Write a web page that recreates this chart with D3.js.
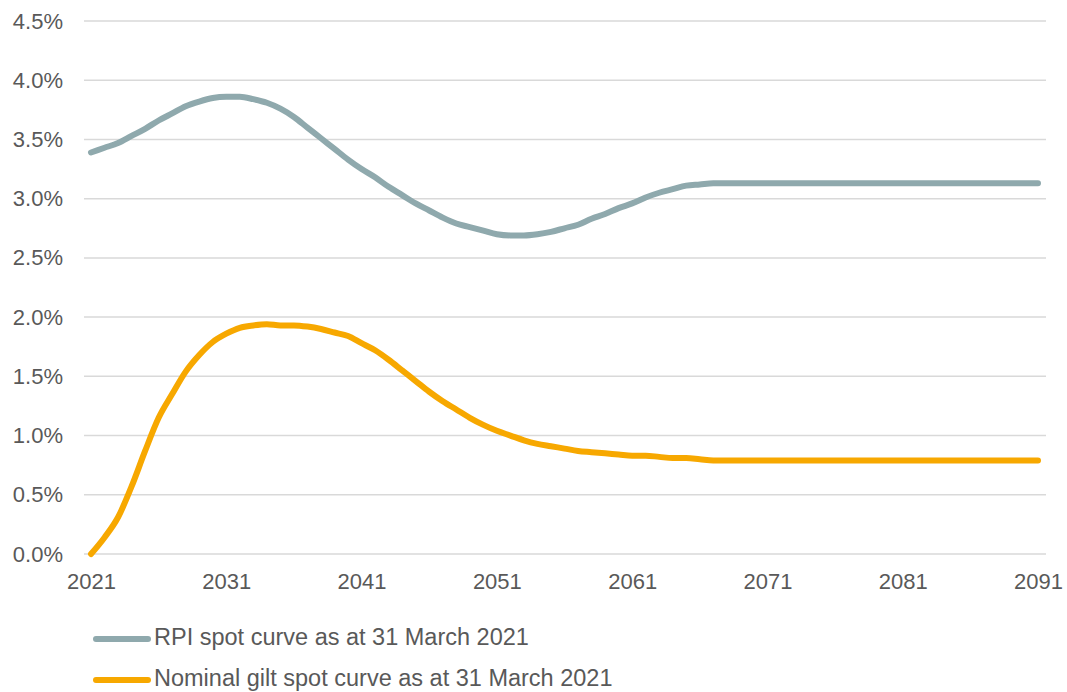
<!DOCTYPE html>
<html>
<head>
<meta charset="utf-8">
<script src="https://cdn.jsdelivr.net/npm/d3@7.9.0/dist/d3.min.js"></script>
<style>
  body { margin: 0; background: #fff; }
  svg text { font-family: "Liberation Sans", Arial, sans-serif; fill: #595959; }
</style>
</head>
<body>
<div id="chart"></div>
<script>
// years on the x axis
const years = [2021, 2022, 2023, 2024, 2025, 2026, 2027, 2028, 2029, 2030,
  2031, 2032, 2033, 2034, 2035, 2036, 2037, 2038, 2039, 2040,
  2041, 2042, 2043, 2044, 2045, 2046, 2047, 2048, 2049, 2050,
  2051, 2052, 2053, 2054, 2055, 2056, 2057, 2058, 2059, 2060,
  2061, 2062, 2063, 2064, 2065, 2066, 2067, 2068, 2069, 2070,
  2080, 2091];

// RPI spot curve (%)
const rpiSpot = [3.39, 3.43, 3.47, 3.53, 3.59, 3.66, 3.72, 3.78, 3.82, 3.85,
  3.86, 3.86, 3.84, 3.81, 3.76, 3.69, 3.60, 3.51, 3.42, 3.33,
  3.25, 3.18, 3.10, 3.03, 2.96, 2.90, 2.84, 2.79, 2.76, 2.73,
  2.70, 2.69, 2.69, 2.70, 2.72, 2.75, 2.78, 2.83, 2.87, 2.92,
  2.96, 3.01, 3.05, 3.08, 3.11, 3.12, 3.13, 3.13, 3.13, 3.13,
  3.13, 3.13];

// Nominal gilt spot curve (%)
const nominalSpot = [0.00, 0.14, 0.31, 0.57, 0.87, 1.15, 1.35, 1.54, 1.68, 1.79,
  1.86, 1.91, 1.93, 1.94, 1.93, 1.93, 1.92, 1.90, 1.87, 1.84,
  1.78, 1.72, 1.64, 1.55, 1.46, 1.37, 1.29, 1.22, 1.15, 1.09,
  1.04, 1.00, 0.96, 0.93, 0.91, 0.89, 0.87, 0.86, 0.85, 0.84,
  0.83, 0.83, 0.82, 0.81, 0.81, 0.80, 0.79, 0.79, 0.79, 0.79,
  0.79, 0.79];

const xTicks = [2021, 2031, 2041, 2051, 2061, 2071, 2081, 2091];
const yTicks = [0, 0.5, 1.0, 1.5, 2.0, 2.5, 3.0, 3.5, 4.0, 4.5];

const seriesNames = ["RPI spot curve as at 31 March 2021", "Nominal gilt spot curve as at 31 March 2021"];
const seriesColors = ["#8FA9AD", "#F7A800"];

const width = 1067, height = 692;

const svg = d3.select("#chart")
  .append("svg")
  .attr("width", width)
  .attr("height", height);

const x = d3.scaleLinear()
  .domain([2021, 2091])
  .range([91, 1038]);

const y = d3.scaleLinear()
  .domain([0, 4.5])
  .range([554, 21]);

// gridlines
svg.append("g")
  .selectAll("line")
  .data(yTicks)
  .enter()
  .append("line")
  .attr("x1", 84)
  .attr("x2", 1046)
  .attr("y1", d => y(d))
  .attr("y2", d => y(d))
  .attr("stroke", "#d9d9d9")
  .attr("stroke-width", 1.5);

// y axis labels
const yAxis = svg.append("g")
  .attr("transform", "translate(70,0)")
  .call(d3.axisLeft(y).tickValues(yTicks).tickSize(0).tickPadding(7)
    .tickFormat(d => d.toFixed(1) + "%"));
yAxis.select(".domain").remove();
yAxis.selectAll("text")
  .attr("font-size", "22px")
  .style("font-family", "Liberation Sans, Arial, sans-serif")
  .attr("fill", "#595959");

// x axis labels
const xAxis = svg.append("g")
  .attr("transform", "translate(0,573)")
  .call(d3.axisBottom(x).tickValues(xTicks).tickSize(0).tickPadding(0)
    .tickFormat(d3.format("d")));
xAxis.select(".domain").remove();
xAxis.selectAll("text")
  .attr("font-size", "22px")
  .style("font-family", "Liberation Sans, Arial, sans-serif")
  .attr("fill", "#595959");

// lines
const line = d3.line()
  .x((d, i) => x(years[i]))
  .y(d => y(d))
  .curve(d3.curveMonotoneX);

[rpiSpot, nominalSpot].forEach((s, k) => {
  svg.append("path")
    .datum(s)
    .attr("d", line)
    .attr("fill", "none")
    .attr("stroke", seriesColors[k])
    .attr("stroke-width", 6)
    .attr("stroke-linecap", "round")
    .attr("stroke-linejoin", "round");
});

// legend
const legend = svg.append("g");
seriesNames.forEach((name, k) => {
  const ly = 639 + k * 41;
  legend.append("line")
    .attr("x1", 96).attr("x2", 148)
    .attr("y1", ly).attr("y2", ly)
    .attr("stroke", seriesColors[k])
    .attr("stroke-width", 6)
    .attr("stroke-linecap", "round");
  legend.append("text")
    .attr("x", 154)
    .attr("y", ly + 6)
    .attr("font-size", "23.5px")
    .text(name);
});
</script>
</body>
</html>
